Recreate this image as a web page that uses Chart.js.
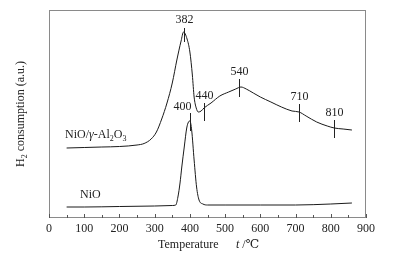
<!DOCTYPE html>
<html>
<head>
<meta charset="utf-8">
<script src="https://cdn.jsdelivr.net/npm/chart.js@4.4.0/dist/chart.umd.min.js"></script>
<style>
  html, body { margin: 0; padding: 0; background: #fff; }
  #box { width: 395px; height: 259px; }
</style>
</head>
<body>
<div id="box"><canvas id="tpr"></canvas></div>
<script>
// temperatures (deg C) and H2 signal (a.u.)
var alTemp = [50, 100, 150, 200, 250, 270, 290, 305, 320, 335, 350, 363, 375, 382, 392, 400, 407, 412, 418, 424, 432, 440, 460, 485, 510, 530, 545, 560, 580, 600, 630, 660, 690, 710, 730, 760, 790, 810, 835, 860];
var alVal  = [70, 70.5, 71, 71.5, 73, 74.5, 79, 86, 99, 115, 135, 158, 177, 186, 179, 166, 143, 121, 110, 106, 107, 110, 115, 122, 126, 129, 131, 129, 125, 121, 116, 111, 107, 106, 102, 96, 92, 90, 89, 88];

var niTemp = [50, 100, 200, 300, 350, 360, 366, 372, 377, 384, 391, 396, 400, 405, 412, 419, 426, 437, 450, 500, 600, 700, 800, 860];
var niVal  = [11, 11, 11.5, 12, 12.5, 13, 21, 35, 51, 71, 90, 96, 97, 88, 58, 31, 18, 14, 13, 13, 13, 13, 14, 15];

// peak markers
var alMarkT = [382, 440, 540, 710, 810];
var alMarkV = [186, 107, 131, 106, 90];
var niMarkT = [400];
var niMarkV = [97];

var xTicks = [0, 100, 200, 300, 400, 500, 600, 700, 800, 900];
var xMinor = [50, 150, 250, 350, 450, 550, 650, 750, 850];

function toPts(t, v) {
  var out = [];
  for (var i = 0; i < t.length; i++) out.push({x: t[i], y: v[i]});
  return out;
}

var serif = "'Liberation Serif', 'DejaVu Serif', serif";
var fs = 12;

// text with subscripts: parts = [[text, isSub], ...]
function drawParts(ctx, parts, x, y, size) {
  var cx = x;
  for (var i = 0; i < parts.length; i++) {
    var sub = parts[i][1];
    ctx.font = (sub ? Math.round(size * 0.7) : size) + "px " + serif;
    ctx.fillText(parts[i][0], cx, sub ? y + size * 0.3 : y);
    cx += ctx.measureText(parts[i][0]).width;
  }
  return cx;
}
function partsWidth(ctx, parts, size) {
  var w = 0;
  for (var i = 0; i < parts.length; i++) {
    ctx.font = (parts[i][1] ? Math.round(size * 0.7) : size) + "px " + serif;
    w += ctx.measureText(parts[i][0]).width;
  }
  return w;
}

var decor = {
  id: 'decor',
  afterDatasetsDraw: function(chart) {
    var ctx = chart.ctx;
    var a = chart.chartArea;
    var xs = chart.scales.x, ys = chart.scales.y;
    ctx.save();

    // frame
    ctx.strokeStyle = '#8a8a8a';
    ctx.lineWidth = 1;
    ctx.strokeRect(a.left + 0.5, a.top + 0.5, a.right - a.left - 1, a.bottom - a.top - 1);

    // inward ticks on bottom axis
    ctx.strokeStyle = '#555';
    ctx.beginPath();
    xTicks.forEach(function(t) {
      var px = Math.round(xs.getPixelForValue(t)) + 0.5;
      ctx.moveTo(px, a.bottom); ctx.lineTo(px, a.bottom - 4);
    });
    xMinor.forEach(function(t) {
      var px = Math.round(xs.getPixelForValue(t)) + 0.5;
      ctx.moveTo(px, a.bottom); ctx.lineTo(px, a.bottom - 3);
    });
    ctx.stroke();

    // peak markers and labels
    ctx.strokeStyle = '#222';
    ctx.fillStyle = '#222';
    ctx.textAlign = 'center';
    ctx.textBaseline = 'middle';
    ctx.font = fs + "px " + serif;
    function mark(t, v, top, bot, lab, dx) {
      var px = Math.round(xs.getPixelForValue(t)) + 0.5;
      var py = ys.getPixelForValue(v);
      ctx.beginPath();
      ctx.moveTo(px, py - top); ctx.lineTo(px, py + bot);
      ctx.stroke();
      ctx.fillText(String(t), px + dx, py - lab);
    }
    for (var i = 0; i < alMarkT.length; i++) {
      if (i == 0) mark(alMarkT[i], alMarkV[i], 4, 10, 12, 0);
      else mark(alMarkT[i], alMarkV[i], 8, 10, 15, 0);
    }
    mark(niMarkT[0], niMarkV[0], 8, 10, 14, -8);

    // series labels
    ctx.textAlign = 'left';
    drawParts(ctx, [['NiO/', false]], 65, 135, fs);
    var w = partsWidth(ctx, [['NiO/', false]], fs);
    ctx.font = "italic " + fs + "px " + serif;
    ctx.fillText('\u03b3', 65 + w, 135);
    var w2 = ctx.measureText('\u03b3').width;
    drawParts(ctx, [['-Al', false], ['2', true], ['O', false], ['3', true]], 65 + w + w2, 135, fs);
    drawParts(ctx, [['NiO', false]], 80, 195, fs);

    // y title
    var yParts = [['H', false], ['2', true], [' consumption (a.u.)', false]];
    ctx.save();
    ctx.translate(21, (a.top + a.bottom) / 2);
    ctx.rotate(-Math.PI / 2);
    var yw = partsWidth(ctx, yParts, fs);
    drawParts(ctx, yParts, -yw / 2, 0, fs);
    ctx.restore();

    // x title
    ctx.font = fs + "px " + serif;
    ctx.fillText('Temperature', 158, 245);
    ctx.font = "italic " + fs + "px " + serif;
    ctx.fillText('t', 236, 245);
    var tw = ctx.measureText('t').width;
    ctx.font = fs + "px " + serif;
    ctx.fillText(' /\u2103', 236 + tw, 245);

    ctx.restore();
  }
};

new Chart("tpr", {
  type: "line",
  data: {
    datasets: [{
      data: toPts(alTemp, alVal),
      borderColor: '#1a1a1a',
      borderWidth: 1,
      pointRadius: 0,
      cubicInterpolationMode: 'monotone',
      fill: false
    }, {
      data: toPts(niTemp, niVal),
      borderColor: '#1a1a1a',
      borderWidth: 1,
      pointRadius: 0,
      cubicInterpolationMode: 'monotone',
      fill: false
    }]
  },
  options: {
    responsive: true,
    maintainAspectRatio: false,
    animation: false,
    layout: { padding: { left: 49, right: 29, top: 10, bottom: 0 } },
    plugins: {
      legend: { display: false },
      tooltip: { enabled: false }
    },
    scales: {
      x: {
        type: 'linear',
        min: 0,
        max: 900,
        grid: { display: false, drawTicks: false },
        border: { display: false },
        ticks: {
          stepSize: 100,
          padding: 4,
          color: '#222',
          font: { family: serif, size: fs }
        },
        afterFit: function(s) { s.height = 41; }
      },
      y: {
        display: false,
        min: 0,
        max: 208
      }
    }
  },
  plugins: [decor]
});
</script>
</body>
</html>
